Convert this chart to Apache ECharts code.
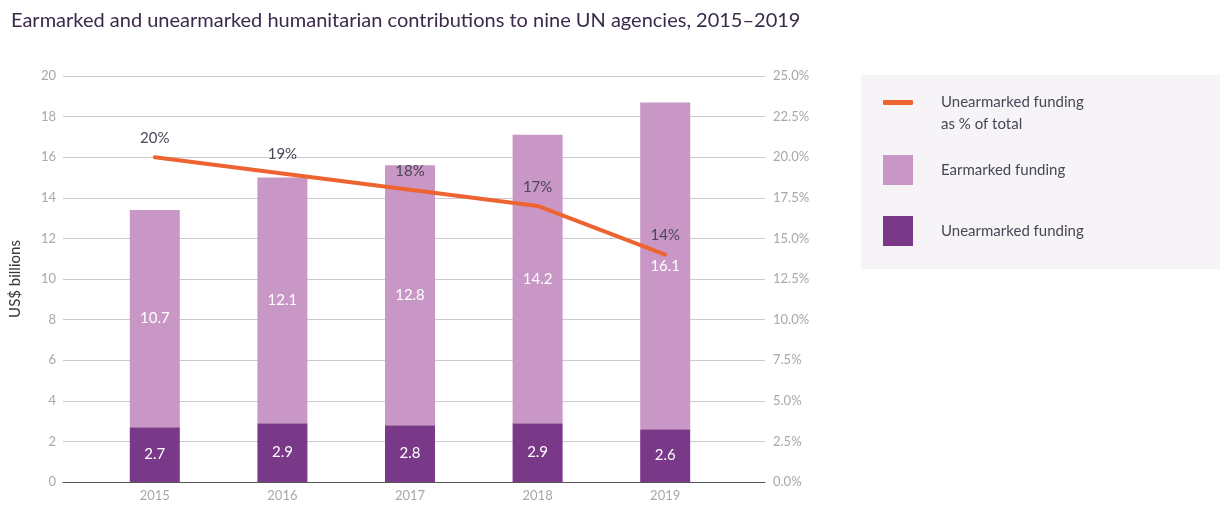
<!DOCTYPE html>
<html>
<head>
<meta charset="utf-8">
<script src="https://cdn.jsdelivr.net/npm/echarts@6/dist/echarts.min.js"></script>
<style>
  html, body { margin: 0; padding: 0; background: #ffffff; }
  #chart { width: 1223px; height: 510px; }
</style>
</head>
<body>
<div id="chart"></div>
<script>
// Humanitarian contributions to nine UN agencies (US$ billions)
const years = ['2015', '2016', '2017', '2018', '2019'];
const earmarked = [10.7, 12.1, 12.8, 14.2, 16.1];
const unearmarked = [2.7, 2.9, 2.8, 2.9, 2.6];
const unearmarkedShare = [20, 19, 18, 17, 14];

const FONT = 'Lato, "Open Sans", sans-serif';
const C_EAR = '#C897C6';
const C_UNEAR = '#7A3888';
const C_LINE = '#EE6431';
const C_TEXT = '#4a4656';
const C_AXIS = '#a9a6ae';

const chart = echarts.init(document.getElementById('chart'));

chart.setOption({
  backgroundColor: '#ffffff',
  animation: false,
  textStyle: { fontFamily: FONT },
  title: {
    text: 'Earmarked and unearmarked humanitarian contributions to nine UN agencies, 2015–2019',
    left: 6, top: 6,
    textStyle: { fontFamily: FONT, fontSize: 20, fontWeight: 'normal', color: '#3b2a4c' }
  },
  graphic: [
    {
      type: 'rect', left: 861, top: 75, z: -10,
      shape: { width: 359, height: 194 },
      style: { fill: '#F6F4F7' }
    },
    {
      type: 'text', left: 941, top: 117,
      style: { text: 'as % of total', fill: C_TEXT, font: '15px ' + FONT }
    }
  ],
  legend: [
    {
      data: ['Unearmarked funding as % of total'],
      left: 883, top: 95, orient: 'vertical', padding: 0,
      icon: 'roundRect', itemWidth: 30, itemHeight: 5, itemGap: 0,
      formatter: () => 'Unearmarked funding',
      textStyle: { fontFamily: FONT, fontSize: 15, color: C_TEXT, padding: [0, 0, 0, 23] }
    },
    {
      data: ['Earmarked funding', 'Unearmarked funding'],
      left: 883, top: 155, orient: 'vertical', padding: 0,
      icon: 'rect', itemWidth: 30, itemHeight: 30, itemGap: 31,
      textStyle: { fontFamily: FONT, fontSize: 15, color: C_TEXT, padding: [0, 0, 0, 23] }
    }
  ],
  grid: [
    { left: 60, right: 458, top: 76, bottom: 28 },
    { left: 91, right: 494, top: 76, bottom: 28 }
  ],
  xAxis: [
    {
      gridIndex: 0, type: 'value', min: 0, max: 1,
      axisLine: { show: true, lineStyle: { color: '#555555', width: 1 } },
      axisTick: { show: false }, axisLabel: { show: false }, splitLine: { show: false }
    },
    {
      gridIndex: 1, type: 'category', data: years,
      axisLine: { show: false }, axisTick: { show: false },
      axisLabel: { color: C_AXIS, fontSize: 13, fontFamily: FONT, margin: 7 }
    }
  ],
  yAxis: [
    {
      gridIndex: 0, type: 'value', min: 0, max: 20, interval: 2, position: 'left',
      name: 'US$ billions', nameLocation: 'middle', nameGap: 40,
      nameTextStyle: { color: '#3a3540', fontSize: 15, fontFamily: FONT },
      axisLine: { show: false }, axisTick: { show: false },
      axisLabel: { color: C_AXIS, fontSize: 13, fontFamily: FONT, margin: 7 },
      splitLine: { lineStyle: { color: '#cbc9cc', width: 1 } }
    },
    {
      gridIndex: 0, type: 'value', min: 0, max: 25, interval: 2.5, position: 'right',
      axisLine: { show: false }, axisTick: { show: false },
      axisLabel: { color: C_AXIS, fontSize: 13, fontFamily: FONT, margin: 8,
                   formatter: v => v.toFixed(1) + '%' },
      splitLine: { show: false }
    },
    { gridIndex: 1, type: 'value', min: 0, max: 20, show: false },
    { gridIndex: 1, type: 'value', min: 0, max: 25, show: false, position: 'right' }
  ],
  series: [
    {
      name: 'Unearmarked funding', type: 'bar', stack: 'total',
      xAxisIndex: 1, yAxisIndex: 2, barWidth: 50,
      itemStyle: { color: C_UNEAR },
      label: { show: true, position: 'inside', color: '#ffffff', fontSize: 15, fontFamily: FONT },
      data: unearmarked
    },
    {
      name: 'Earmarked funding', type: 'bar', stack: 'total',
      xAxisIndex: 1, yAxisIndex: 2, barWidth: 50,
      itemStyle: { color: C_EAR },
      label: { show: true, position: 'inside', color: '#ffffff', fontSize: 15, fontFamily: FONT },
      data: earmarked
    },
    {
      name: 'Unearmarked funding as % of total', type: 'line',
      xAxisIndex: 1, yAxisIndex: 3, z: 5,
      symbol: 'circle', symbolSize: 1, showSymbol: true,
      lineStyle: { color: C_LINE, width: 4, cap: 'round' },
      itemStyle: { color: C_LINE },
      label: { show: true, position: 'top', distance: 11, color: C_TEXT, fontSize: 15,
               fontFamily: FONT, formatter: p => p.value + '%' },
      data: unearmarkedShare
    }
  ]
});
</script>
</body>
</html>
